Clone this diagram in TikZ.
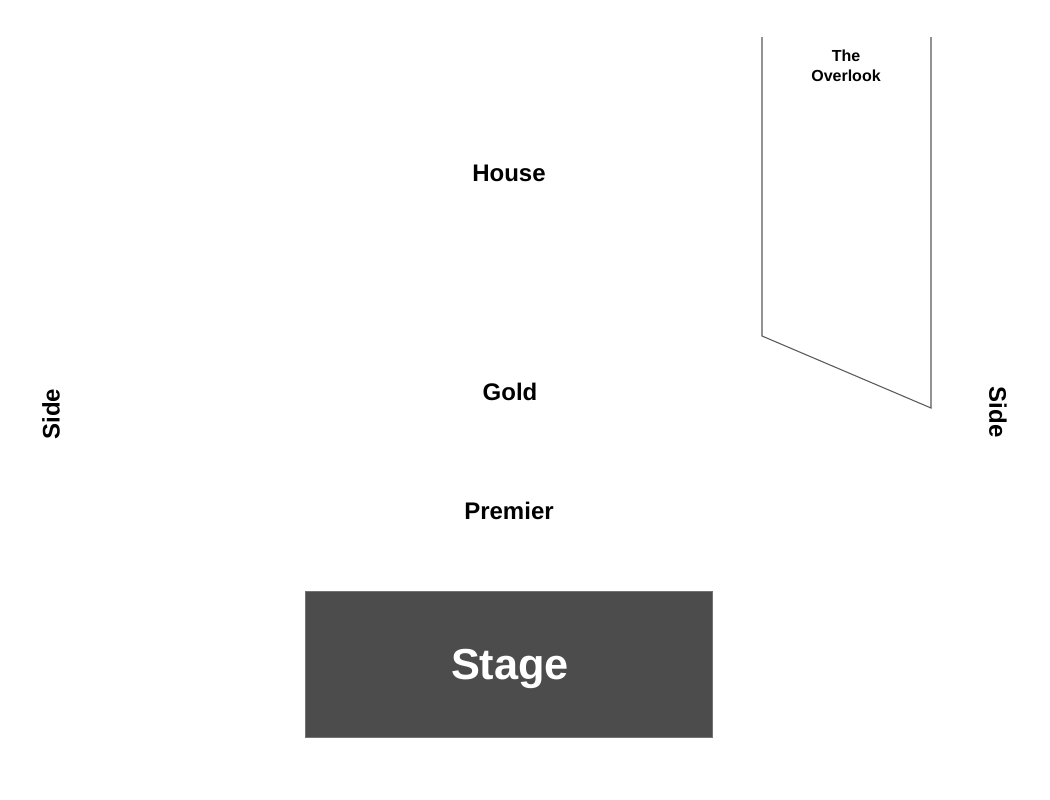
\documentclass[tikz,border=0pt]{standalone}
\usepackage{fontspec}
\setmainfont{Liberation Sans}
\begin{document}
\begin{tikzpicture}[x=0.75pt,y=-0.75pt,
  lbl/.style={font=\fontsize{18}{21}\selectfont\bfseries, inner sep=0pt, text=black},
  small/.style={font=\fontsize{12}{15}\selectfont\bfseries, inner sep=0pt, align=center, text=black},
  outline/.style={draw=black!65, line width=0.8pt}]
\useasboundingbox (0,0) rectangle (1050,800);
\fill[white] (0,0) rectangle (1050,800);
% Overlook
\coordinate (ot1) at (762,37);
\coordinate (ob1) at (762,336);
\coordinate (ob2) at (931,408);
\coordinate (ot2) at (931,37);
\draw[outline] (ot1) -- (ob1) -- (ob2) -- (ot2);
\node[small] (overlook) at (846,66) {The\\Overlook};
% Stage
\node[fill=black!70, draw=black!55, minimum width=407*0.75pt, minimum height=146*0.75pt, inner sep=0pt] (stage) at (508.5,664) {};
\node[inner sep=0pt, font=\fontsize{32.5}{36}\selectfont\bfseries, text=white] (stagelbl) at (510,669) {Stage};
\node[lbl] (house) at (509,173) {House};
\node[lbl] (gold) at (510,392) {Gold};
\node[lbl] (premier) at (509,511) {Premier};
\node[lbl, rotate=90] (sidel) at (51,414) {Side};
\node[lbl, rotate=-90] (sider) at (998,412) {Side};
\end{tikzpicture}
\end{document}
